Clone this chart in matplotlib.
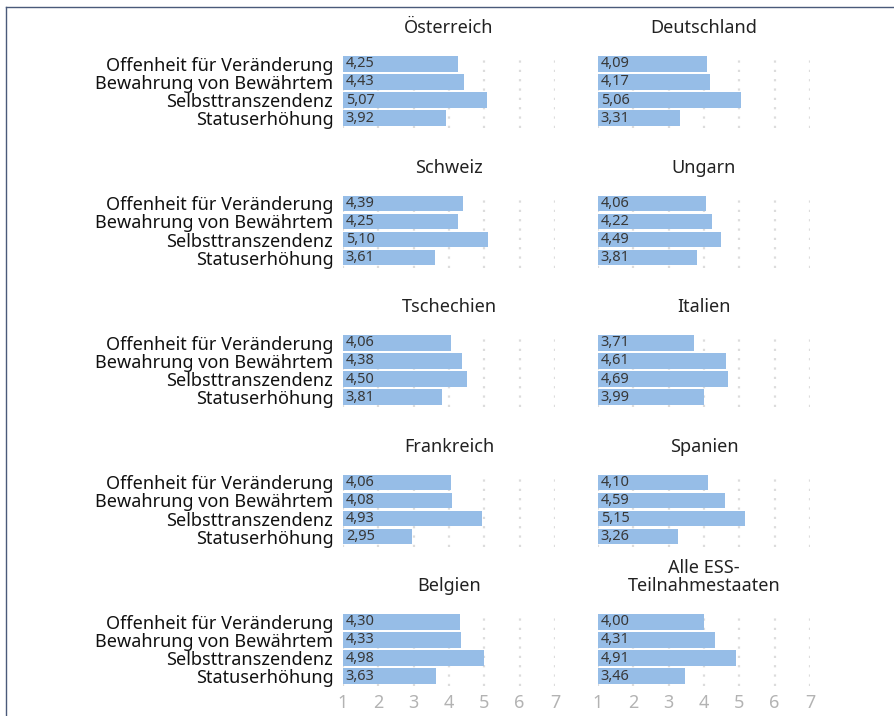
import matplotlib.pyplot as plt
from matplotlib.lines import Line2D

plt.rcParams['font.family'] = ['Noto Sans', 'DejaVu Sans']

# Daten
kategorien = ['Offenheit für Veränderung', 'Bewahrung von Bewährtem',
              'Selbsttranszendenz', 'Statuserhöhung']
laender = ['Österreich', 'Deutschland', 'Schweiz', 'Ungarn', 'Tschechien',
           'Italien', 'Frankreich', 'Spanien', 'Belgien',
           'Alle ESS-\nTeilnahmestaaten']
oesterreich = [4.25, 4.43, 5.07, 3.92]
deutschland = [4.09, 4.17, 5.06, 3.31]
schweiz = [4.39, 4.25, 5.10, 3.61]
ungarn = [4.06, 4.22, 4.49, 3.81]
tschechien = [4.06, 4.38, 4.50, 3.81]
italien = [3.71, 4.61, 4.69, 3.99]
frankreich = [4.06, 4.08, 4.93, 2.95]
spanien = [4.10, 4.59, 5.15, 3.26]
belgien = [4.30, 4.33, 4.98, 3.63]
alle = [4.00, 4.31, 4.91, 3.46]
werte = [oesterreich, deutschland, schweiz, ungarn, tschechien,
         italien, frankreich, spanien, belgien, alle]
ticks = [1, 2, 3, 4, 5, 6, 7]

W, H = 895, 716
fig = plt.figure(figsize=(W / 100, H / 100), dpi=100)

# Rahmen links/oben
fig.add_artist(Line2D([6 / W, 6 / W], [0, 1 - 7 / H], color='#4a5a7a', lw=1))
fig.add_artist(Line2D([6 / W, 1], [1 - 7 / H, 1 - 7 / H], color='#4a5a7a', lw=1))

x0 = [343, 598]
breite = 212
hoehe = 74
for i, (land, v) in enumerate(zip(laender, werte)):
    zeile, spalte = divmod(i, 2)
    top = 54 + zeile * 139.5
    ax = fig.add_axes([x0[spalte] / W, 1 - (top + hoehe) / H, breite / W, hoehe / H])
    y = list(range(len(kategorien)))
    ax.barh(y, [w - 1 for w in v], left=1, height=0.86, color='#96bde7', zorder=2)
    for yy, w in zip(y, v):
        ax.text(1.08, yy, f'{w:.2f}'.replace('.', ','), va='center', ha='left',
                fontsize=10.5, color='#383838', zorder=3)
    ax.set_xlim(1, 7)
    ax.set_ylim(3.55, -0.55)
    ax.set_xticks(ticks)
    for t in ticks:
        ax.axvline(t, color='#dcdcdc', lw=1.6, ls=(0, (1, 3.2)), zorder=1)
    for s in ax.spines.values():
        s.set_visible(False)
    ax.tick_params(length=0)
    if zeile == 4:
        ax.set_xticklabels([str(t) for t in ticks], fontsize=13, color='#b3b3b3')
        ax.tick_params(axis='x', pad=6)
    else:
        ax.set_xticklabels([])
    if spalte == 0:
        ax.set_yticks(y)
        ax.set_yticklabels(kategorien, fontsize=13, color='#111111')
        ax.tick_params(axis='y', pad=7)
    else:
        ax.set_yticks([])
    ax.set_title(land, fontsize=13, color='#222222', pad=15, linespacing=1.0)

fig.savefig('out.png', dpi=100)
